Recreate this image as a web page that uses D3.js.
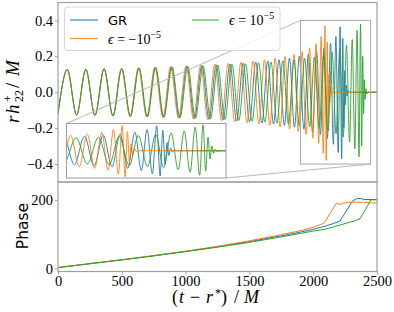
<!DOCTYPE html>
<html>
<head>
<meta charset="utf-8">
<script src="https://cdn.jsdelivr.net/npm/d3@7"></script>
<style>
  body { margin: 0; background: #fff; }
  svg { display: block; }
</style>
</head>
<body>
<svg width="394" height="312"></svg>
<script>
// strain extrema (time, r h22/M)
var grTime = [0, 73, 146, 218, 290, 361, 431, 499, 566, 633, 698, 762, 826, 889, 950, 1010, 1069, 1127, 1184, 1240,
    1294, 1348, 1400, 1451, 1501, 1550, 1598, 1644, 1689, 1732, 1774, 1814, 1853, 1891, 1927, 1962, 1995, 2027, 2057,
    2085, 2111, 2136, 2158, 2178, 2196, 2211, 2223, 2232, 2240, 2247, 2253, 2259, 2265, 2272, 2280, 2500];
var grStrain = [-0.12, 0.126, -0.127, 0.128, -0.129, 0.131, -0.132, 0.133, -0.134, 0.136, -0.137, 0.138, -0.14, 0.142,
    -0.143, 0.145, -0.147, 0.149, -0.151, 0.153, -0.155, 0.157, -0.16, 0.162, -0.165, 0.168, -0.171, 0.174, -0.177,
    0.181, -0.185, 0.19, -0.195, 0.2, -0.206, 0.212, -0.219, 0.226, -0.235, 0.246, -0.258, 0.273, -0.29, 0.31, -0.335,
    0.365, -0.37, 0.3, -0.2, 0.12, -0.07, 0.04, -0.02, 0.01, 0, 0];

var negTime = [0, 73, 145, 217, 289, 360, 429, 497, 564, 630, 695, 759, 822, 883, 944, 1004, 1062, 1118, 1174, 1229,
    1282, 1334, 1385, 1434, 1482, 1529, 1574, 1618, 1660, 1702, 1741, 1779, 1815, 1850, 1883, 1914, 1944, 1972, 1997,
    2022, 2043, 2062, 2079, 2092, 2102, 2110, 2117, 2123, 2129, 2135, 2141, 2148, 2500];
var negStrain = [-0.12, 0.126, -0.127, 0.128, -0.129, 0.131, -0.132, 0.133, -0.135, 0.137, -0.138, 0.14, -0.141, 0.143,
    -0.145, 0.147, -0.149, 0.151, -0.153, 0.156, -0.158, 0.161, -0.164, 0.167, -0.17, 0.173, -0.177, 0.181, -0.185,
    0.189, -0.194, 0.199, -0.205, 0.211, -0.218, 0.226, -0.235, 0.245, -0.256, 0.27, -0.285, 0.31, -0.34, 0.37, -0.38,
    0.28, -0.17, 0.1, -0.06, 0.03, -0.015, 0, 0];

var posTime = [0, 73, 146, 218, 290, 362, 431, 500, 568, 635, 701, 766, 830, 894, 956, 1017, 1077, 1137, 1195, 1252,
    1308, 1363, 1417, 1469, 1521, 1572, 1621, 1669, 1716, 1762, 1806, 1849, 1891, 1933, 1972, 2010, 2047, 2082, 2116,
    2148, 2179, 2208, 2235, 2261, 2285, 2306, 2326, 2344, 2359, 2371, 2380, 2388, 2395, 2401, 2407, 2413, 2419, 2428, 2500];
var posStrain = [-0.12, 0.126, -0.127, 0.128, -0.129, 0.13, -0.131, 0.132, -0.134, 0.135, -0.136, 0.137, -0.139, 0.141,
    -0.142, 0.143, -0.145, 0.147, -0.148, 0.15, -0.152, 0.155, -0.157, 0.159, -0.161, 0.164, -0.166, 0.169, -0.172,
    0.175, -0.178, 0.181, -0.185, 0.189, -0.193, 0.197, -0.202, 0.209, -0.215, 0.223, -0.231, 0.24, -0.25, 0.262, -0.277,
    0.293, -0.315, 0.345, -0.36, 0.38, -0.3, 0.2, -0.12, 0.07, -0.04, 0.02, -0.01, 0, 0];

// phase panel
var grPhaseTime = [0, 250, 500, 750, 1000, 1250, 1500, 1750, 1900, 2000, 2100, 2150, 2210, 2260, 2309, 2340, 2367, 2400, 2500];
var grPhase = [2.5, 13.8, 25, 37, 49.5, 63, 78, 95, 106, 114, 124, 130, 138, 168, 197, 203, 204, 201, 201];
var negPhaseTime = [0, 250, 500, 750, 1000, 1250, 1500, 1750, 1900, 2000, 2085, 2135, 2184, 2205, 2230, 2300, 2400, 2450, 2500];
var negPhase = [2.5, 14, 25.3, 37.5, 50.3, 64.3, 80.5, 98.5, 110, 120, 132, 162, 191, 186, 190, 193, 193, 191, 191];
var posPhaseTime = [0, 250, 500, 750, 1000, 1250, 1500, 1750, 1900, 2000, 2085, 2150, 2210, 2280, 2330, 2367, 2410, 2453, 2500];
var posPhase = [2.5, 13.8, 24.8, 36.5, 49, 62, 76, 92, 102, 109, 113.5, 120, 126.5, 134, 139, 145, 172, 200, 200];

var seriesColors = ["#1f77b4", "#ff7f0e", "#2ca02c"];
var xTicks = [0, 500, 1000, 1500, 2000, 2500];
var strainTicks = [-0.4, -0.2, 0.0, 0.2, 0.4];
var phaseTicks = [0, 200];
var zoomTime = [1900, 2450];
var zoomStrain = [-0.4, 0.4];

var series = [
    {t: grTime, h: grStrain, pt: grPhaseTime, p: grPhase, color: seriesColors[0]},
    {t: negTime, h: negStrain, pt: negPhaseTime, p: negPhase, color: seriesColors[1]},
    {t: posTime, h: posStrain, pt: posPhaseTime, p: posPhase, color: seriesColors[2]}
];

var svg = d3.select("svg");
var left = 58, right = 377, topY = 2.5, midY = 182, bottomY = 271.5;
var inset = {x0: 66.5, x1: 226, y0: 123.5, y1: 178};
var serif = "'Liberation Serif', 'DejaVu Serif', serif";
var sans = "'DejaVu Sans', 'Liberation Sans', sans-serif";
var spineColor = "#a0a0a0";

var x = d3.scaleLinear().domain([0, 2500]).range([left, right]);
var yWave = d3.scaleLinear().domain([-0.5, 0.5]).range([midY, topY]);
var yPhase = d3.scaleLinear().domain([-9, 252]).range([bottomY, midY]);
var xIn = d3.scaleLinear().domain(zoomTime).range([inset.x0, inset.x1]);
var yIn = d3.scaleLinear().domain(zoomStrain).range([inset.y1, inset.y0]);

var defs = svg.append("defs");
defs.append("clipPath").attr("id", "clipTop").append("rect")
    .attr("x", left).attr("y", topY).attr("width", right - left).attr("height", midY - topY);
defs.append("clipPath").attr("id", "clipBottom").append("rect")
    .attr("x", left).attr("y", midY).attr("width", right - left).attr("height", bottomY - midY);
defs.append("clipPath").attr("id", "clipInset").append("rect")
    .attr("x", inset.x0).attr("y", inset.y0).attr("width", inset.x1 - inset.x0).attr("height", inset.y1 - inset.y0);

var waveLine = function(xs, ys) {
    return d3.line()
        .x(function(d) { return xs(d[0]); })
        .y(function(d) { return ys(d[1]); })
        .curve(d3.curveMonotoneX);
}

// main waveforms
var topG = svg.append("g").attr("clip-path", "url(#clipTop)");
series.forEach(function(s) {
    topG.append("path")
        .attr("d", waveLine(x, yWave)(d3.zip(s.t, s.h)))
        .attr("fill", "none")
        .attr("stroke", s.color)
        .attr("stroke-width", 1)
        .attr("stroke-opacity", 0.9);
});

// zoom box and connectors
svg.append("rect")
    .attr("x", x(zoomTime[0])).attr("y", yWave(zoomStrain[1]))
    .attr("width", x(zoomTime[1]) - x(zoomTime[0]))
    .attr("height", yWave(zoomStrain[0]) - yWave(zoomStrain[1]))
    .attr("fill", "none").attr("stroke", "#a8a8a8").attr("stroke-width", 1);
svg.append("line")
    .attr("x1", x(zoomTime[0])).attr("y1", yWave(zoomStrain[1]))
    .attr("x2", inset.x0).attr("y2", inset.y0)
    .attr("stroke", "#b0b0b0").attr("stroke-width", 0.9);
svg.append("line")
    .attr("x1", x(zoomTime[1])).attr("y1", yWave(zoomStrain[0]))
    .attr("x2", inset.x1).attr("y2", inset.y1)
    .attr("stroke", "#b0b0b0").attr("stroke-width", 0.9);

// inset
svg.append("rect")
    .attr("x", inset.x0).attr("y", inset.y0)
    .attr("width", inset.x1 - inset.x0).attr("height", inset.y1 - inset.y0)
    .attr("fill", "#fff");
var inG = svg.append("g").attr("clip-path", "url(#clipInset)");
series.forEach(function(s) {
    inG.append("path")
        .attr("d", waveLine(xIn, yIn)(d3.zip(s.t, s.h)))
        .attr("fill", "none")
        .attr("stroke", s.color)
        .attr("stroke-width", 1)
        .attr("stroke-opacity", 0.9);
});
svg.append("rect")
    .attr("x", inset.x0).attr("y", inset.y0)
    .attr("width", inset.x1 - inset.x0).attr("height", inset.y1 - inset.y0)
    .attr("fill", "none").attr("stroke", spineColor).attr("stroke-width", 1.1);

// phase panel
var botG = svg.append("g").attr("clip-path", "url(#clipBottom)");
series.forEach(function(s) {
    botG.append("path")
        .attr("d", d3.line()
            .x(function(d) { return x(d[0]); })
            .y(function(d) { return yPhase(d[1]); })(d3.zip(s.pt, s.p)))
        .attr("fill", "none")
        .attr("stroke", s.color)
        .attr("stroke-width", 1);
});

// legend
var leg = svg.append("g");
leg.append("rect")
    .attr("x", 64.5).attr("y", 7).attr("width", 215.5).attr("height", 43.5).attr("rx", 3.5)
    .attr("fill", "#fff").attr("fill-opacity", 0.8)
    .attr("stroke", "#d6d6d6").attr("stroke-width", 1);
var legPos = [[70, 98, 20], [70, 98, 38.5], [192, 219, 20]];
legPos.forEach(function(p, i) {
    leg.append("line")
        .attr("x1", p[0]).attr("x2", p[1]).attr("y1", p[2]).attr("y2", p[2])
        .attr("stroke", seriesColors[i]).attr("stroke-width", 1.2).attr("stroke-opacity", 0.85);
});
leg.append("text").attr("x", 108).attr("y", 25)
    .style("font-family", sans).style("font-size", "13px").text("GR");
var eps1 = leg.append("text").attr("x", 108).attr("y", 43.5)
    .style("font-family", serif).style("font-size", "14px");
eps1.append("tspan").style("font-style", "italic").text("ϵ");
eps1.append("tspan").text(" = −10");
eps1.append("tspan").attr("dy", -6).style("font-size", "10px").text("−5");
var eps2 = leg.append("text").attr("x", 229).attr("y", 25)
    .style("font-family", serif).style("font-size", "14px");
eps2.append("tspan").style("font-style", "italic").text("ϵ");
eps2.append("tspan").text(" = 10");
eps2.append("tspan").attr("dy", -6).style("font-size", "10px").text("−5");

// axes
var styleAxis = function(g) {
    g.select(".domain").remove();
    g.selectAll(".tick line").attr("stroke", spineColor);
    g.selectAll(".tick text").style("font-family", serif).style("font-size", "14.5px").attr("fill", "#000");
}
svg.append("g")
    .attr("transform", "translate(" + left + ",0)")
    .call(d3.axisLeft(yWave).tickValues(strainTicks).tickSize(3).tickPadding(2).tickFormat(d3.format(".1f")))
    .call(styleAxis);
svg.append("g")
    .attr("transform", "translate(" + left + ",0)")
    .call(d3.axisLeft(yPhase).tickValues(phaseTicks).tickSize(3).tickPadding(2).tickFormat(d3.format("d")))
    .call(styleAxis);
svg.append("g")
    .attr("transform", "translate(0," + bottomY + ")")
    .call(d3.axisBottom(x).tickValues(xTicks).tickSize(3).tickPadding(1).tickFormat(d3.format("d")))
    .call(styleAxis);

svg.append("rect").attr("x", left).attr("y", topY).attr("width", right - left).attr("height", midY - topY)
    .attr("fill", "none").attr("stroke", spineColor).attr("stroke-width", 1.2);
svg.append("rect").attr("x", left).attr("y", midY).attr("width", right - left).attr("height", bottomY - midY)
    .attr("fill", "none").attr("stroke", spineColor).attr("stroke-width", 1.2);

// axis labels
var yl = svg.append("text")
    .attr("transform", "translate(19,0) rotate(-90)")
    .style("font-family", serif).style("font-size", "19px").style("font-style", "italic");
yl.append("tspan").attr("x", -123).text("r");
yl.append("tspan").attr("x", -114).text("h");
yl.append("tspan").attr("x", -102).attr("dy", -7).style("font-size", "12px").style("font-style", "normal").text("+");
yl.append("tspan").attr("x", -102).attr("dy", 11).style("font-size", "12px").style("font-style", "normal").text("22");
yl.append("tspan").attr("x", -88).attr("dy", -4).style("font-style", "normal").text("/");
yl.append("tspan").attr("x", -76).text("M");

svg.append("text")
    .attr("transform", "translate(28,226) rotate(-90)")
    .attr("text-anchor", "middle")
    .style("font-family", sans).style("font-size", "15.5px")
    .text("Phase");

var xl = svg.append("text").attr("y", 303)
    .style("font-family", serif).style("font-size", "18px");
xl.append("tspan").attr("x", 172).text("(");
xl.append("tspan").attr("x", 179).style("font-style", "italic").text("t");
xl.append("tspan").attr("x", 190).text("−");
xl.append("tspan").attr("x", 206).style("font-style", "italic").text("r");
xl.append("tspan").attr("x", 215).attr("dy", -6).style("font-size", "12px").text("*");
xl.append("tspan").attr("x", 221).attr("dy", 6).text(")");
xl.append("tspan").attr("x", 234).text("/");
xl.append("tspan").attr("x", 244).style("font-style", "italic").text("M");
</script>
</body>
</html>
